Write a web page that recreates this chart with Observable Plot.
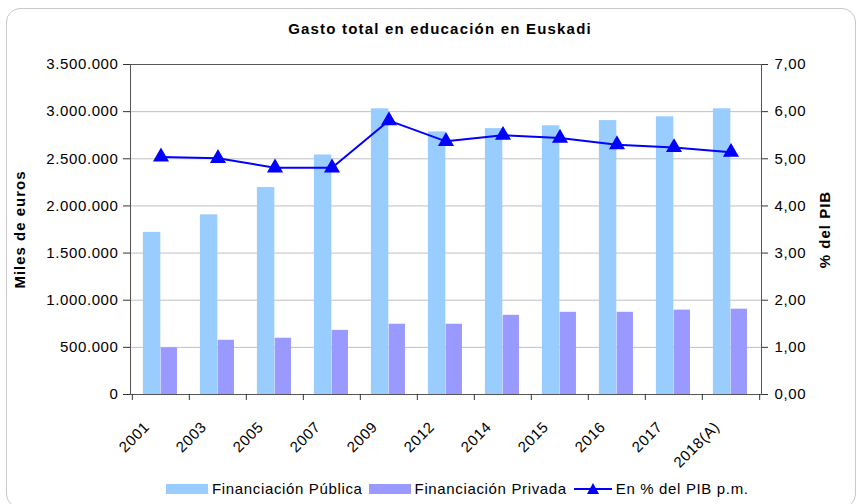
<!DOCTYPE html>
<html>
<head>
<meta charset="utf-8">
<script src="https://cdn.jsdelivr.net/npm/d3@7"></script>
<script src="https://cdn.jsdelivr.net/npm/@observablehq/plot@0.6"></script>
<style>
  html, body { margin: 0; padding: 0; background: #fff; }
  #wrap { position: relative; width: 863px; height: 504px; overflow: hidden; font-family: "Liberation Sans", Arial, sans-serif; }
  #border { position: absolute; left: 6px; top: 8px; width: 850px; height: 500px; border: 1px solid #c8c8c8; border-radius: 14px; box-sizing: border-box; }
  #title { position: absolute; left: 0; top: 20px; width: 880px; text-align: center; font-weight: bold; font-size: 15px; letter-spacing: 1.2px; color: #000; }
  #chart { position: absolute; left: 0; top: 0; }
  #legend { position: absolute; left: 166px; top: 480px; font-size: 15px; letter-spacing: 0.65px; color: #000; display: flex; align-items: center; white-space: nowrap; }
  .sw { display: inline-block; width: 42px; height: 10px; margin-right: 4px; }
  .item { display: flex; align-items: center; margin-right: 6px; }
  svg text { letter-spacing: 0.6px; }
  svg g[aria-label="y-axis label"] text { font-weight: bold; letter-spacing: 1px; }
</style>
</head>
<body>
<div id="wrap">
  <div id="border"></div>
  <div id="title">Gasto total en educación en Euskadi</div>
  <div id="chart"></div>
  <div id="legend"></div>
</div>
<script>
// ---- data ----
const categories = ["2001", "2003", "2005", "2007", "2009", "2012", "2014", "2015", "2016", "2017", "2018(A)"];
const financiacionPublica = [1720000, 1905000, 2195000, 2540000, 3030000, 2785000, 2820000, 2850000, 2905000, 2945000, 3030000];
const financiacionPrivada = [495000, 575000, 597000, 680000, 745000, 745000, 840000, 872000, 872000, 895000, 905000];
const pctPIB = [5.04, 5.01, 4.81, 4.81, 5.81, 5.37, 5.50, 5.44, 5.30, 5.24, 5.14];
const leftTicks = [0, 500000, 1000000, 1500000, 2000000, 2500000, 3000000, 3500000];
const rightTicks = [0, 1, 2, 3, 4, 5, 6, 7];
const seriesNames = ["Financiación Pública", "Financiación Privada", "En % del PIB p.m."];
const axisTitles = ["Miles de euros", "% del PIB"];

// ---- build ----
const rows = categories.map((c, i) => ({cat: c, pub: financiacionPublica[i], priv: financiacionPrivada[i], pib: pctPIB[i]}));
const yMax = 3500000, rMax = 7, ratio = yMax / rMax;
const loc = d3.formatLocale({decimal: ",", thousands: ".", grouping: [3], currency: ["", "€"]});
const f0 = loc.format(",.0f"), f2 = loc.format(",.2f");

const W = 863, H = 470, mL = 130, mR = 102, mT = 64, mB = 76;
const bw = (W - mL - mR) / categories.length;
const colPub = "#99CCFF", colPriv = "#9999FF", colLine = "#0000FF";

const chart = Plot.plot({
  width: W, height: H,
  marginLeft: mL, marginRight: mR, marginTop: mT, marginBottom: mB,
  style: {fontFamily: "'Liberation Sans', Arial, sans-serif", fontSize: "15px", color: "#000", background: "transparent", overflow: "visible"},
  x: {type: "band", domain: categories, padding: 0},
  y: {domain: [0, yMax]},
  marks: [
    Plot.gridY(leftTicks, {stroke: "#c0c0c0", strokeOpacity: 1}),
    Plot.barY(rows, {x: "cat", y: "pub", fill: colPub, insetLeft: bw * 0.19, insetRight: bw * 0.5}),
    Plot.barY(rows, {x: "cat", y: "priv", fill: colPriv, insetLeft: bw * 0.5, insetRight: bw * 0.21}),
    Plot.line(rows, {x: "cat", y: d => d.pib * ratio, stroke: colLine, strokeWidth: 2}),
    Plot.dot(rows, {x: "cat", y: d => d.pib * ratio, symbol: "triangle", fill: colLine, stroke: colLine, r: 5}),
    Plot.frame({stroke: "#555"}),
    Plot.axisY({ticks: leftTicks, tickFormat: f0, tickSize: 7, tickPadding: 5, stroke: "#333",
      label: axisTitles[0], labelAnchor: "center", labelArrow: "none", labelOffset: 116}),
    Plot.axisY({anchor: "right", ticks: leftTicks, tickFormat: d => f2(d / ratio), tickSize: 6, tickPadding: 7, stroke: "#333",
      label: axisTitles[1], labelAnchor: "center", labelArrow: "none", labelOffset: 68}),
    Plot.axisX({tickSize: 0, tickRotate: -45, tickPadding: 30, dx: -14, label: null}),
    Plot.axisX({tickSize: 6, tickFormat: () => "", dx: -bw / 2, stroke: "#333", label: null}),
    Plot.axisX({ticks: [categories[categories.length - 1]], tickSize: 6, tickFormat: () => "", dx: bw / 2, stroke: "#333", label: null})
  ]
});
document.getElementById("chart").appendChild(chart);

// ---- legend ----
const lg = document.getElementById("legend");
const swatch = (col) => `<span class="sw" style="background:${col}"></span>`;
lg.innerHTML =
  `<span class="item">${swatch(colPub)}${seriesNames[0]}</span>` +
  `<span class="item">${swatch(colPriv)}${seriesNames[1]}</span>` +
  `<span class="item"><svg width="40" height="14" style="margin-right:3px"><line x1="1" y1="7" x2="39" y2="7" stroke="${colLine}" stroke-width="2"/><path d="M20,1 L26,12 L14,12 Z" fill="${colLine}"/></svg>${seriesNames[2]}</span>`;
</script>
</body>
</html>
